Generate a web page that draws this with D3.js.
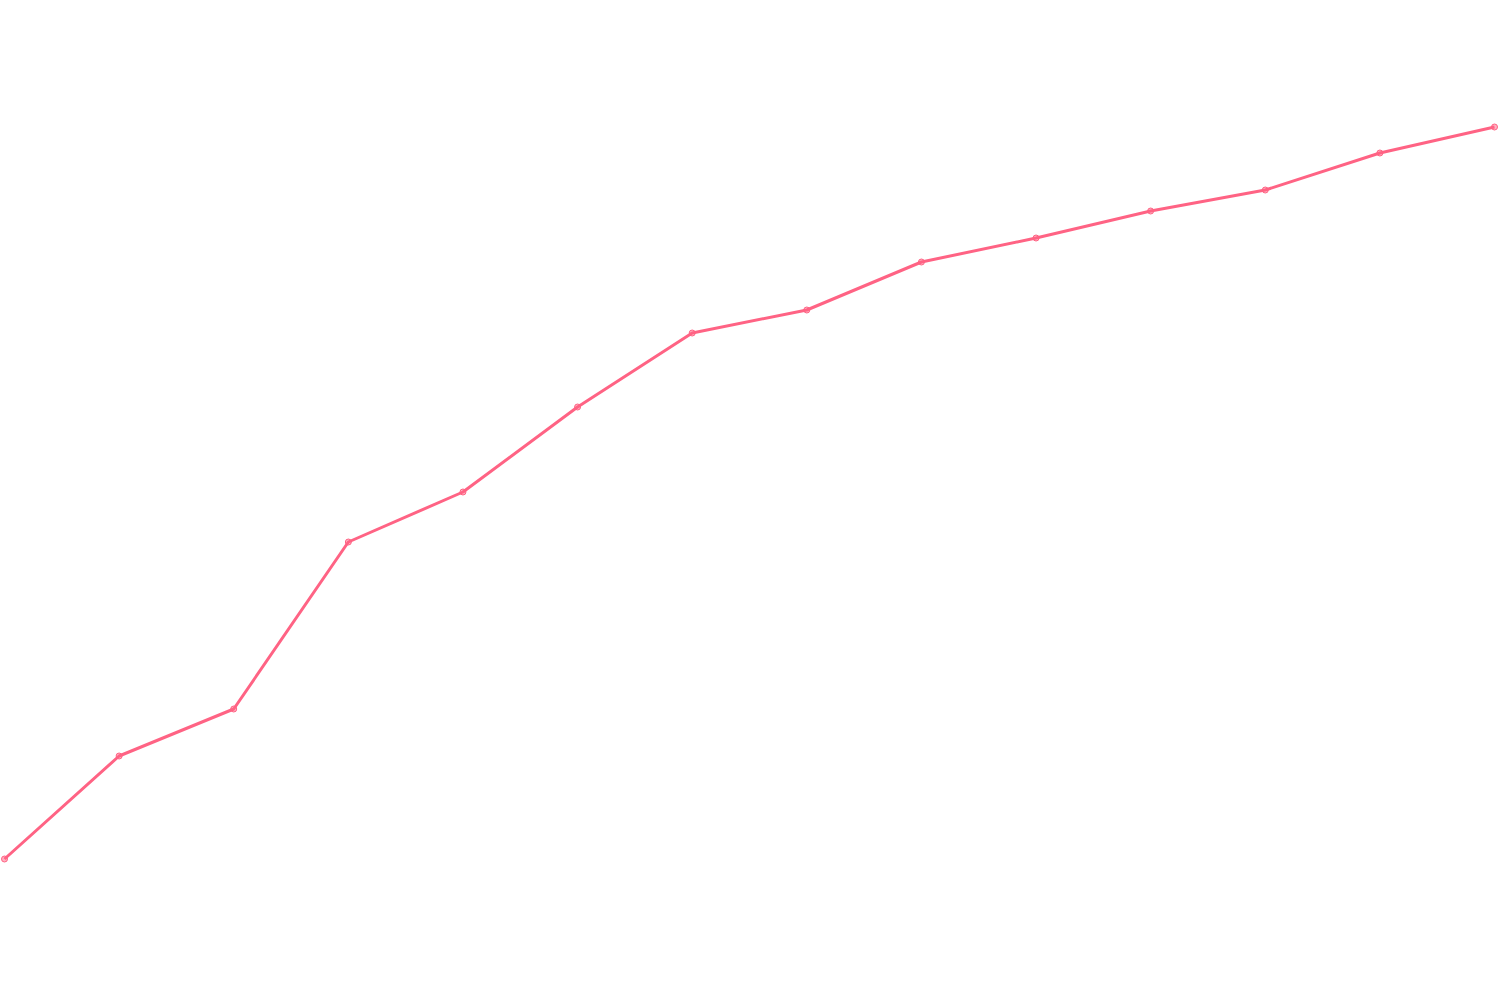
<!DOCTYPE html>
<html><head><meta charset="utf-8">
<script src="https://cdn.jsdelivr.net/npm/d3@7"></script>
<style>html,body{margin:0;padding:0;background:#fff;}svg{display:block;}</style>
</head><body>
<svg id="chart" width="1500" height="1000"></svg>
<script>
const categories = ["1","2","3","4","5","6","7","8","9","10","11","12","13","14"];
const values = [14.1, 24.4, 29.1, 45.8, 50.8, 59.3, 66.7, 69.0, 73.8, 76.2, 78.9, 81.0, 84.7, 87.3];

const svg = d3.select("#chart");
const x = d3.scalePoint().domain(categories).range([4.5, 1494.5]);
const y = d3.scaleLinear().domain([0, 100]).range([1000, 0]);

const data = categories.map((c, i) => ({c, v: values[i]}));
const line = d3.line().x(d => x(d.c)).y(d => y(d.v));

svg.append("path").datum(data)
  .attr("d", line)
  .attr("fill", "none")
  .attr("stroke", "rgb(255,99,132)")
  .attr("stroke-width", 3)
  .attr("stroke-linejoin", "round");

svg.selectAll("circle").data(data).join("circle")
  .attr("cx", d => x(d.c))
  .attr("cy", d => y(d.v))
  .attr("r", 3)
  .attr("fill", "rgba(255,99,132,0.5)")
  .attr("stroke", "rgb(255,99,132)")
  .attr("stroke-width", 1);
</script>
</body></html>
